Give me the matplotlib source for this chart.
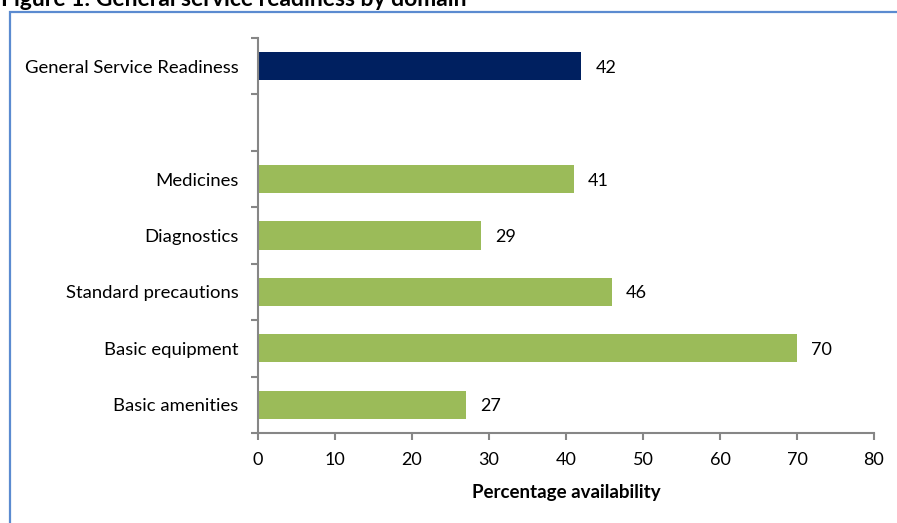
import matplotlib
matplotlib.use("Agg")
import matplotlib.pyplot as plt
from matplotlib.patches import Rectangle

plt.rcParams['font.family'] = ['Lato', 'DejaVu Sans']

categories = ["General Service Readiness", "", "Medicines", "Diagnostics",
              "Standard precautions", "Basic equipment", "Basic amenities"]
values = [42, None, 41, 29, 46, 70, 27]
colors = ["#002060", None, "#9BBB59", "#9BBB59", "#9BBB59", "#9BBB59", "#9BBB59"]
xticks = [0, 10, 20, 30, 40, 50, 60, 70, 80]

fig = plt.figure(figsize=(8.97, 5.23), dpi=100)
ax = fig.add_axes([258/897, 1-433/523, (874-258)/897, (433-38)/523])

pos = list(range(len(categories)))
for p, v, c in zip(pos, values, colors):
    if v is None:
        continue
    ax.barh(p, v, height=0.5, color=c)
    ax.text(v + 1.8, p, f"{v}", va="center_baseline", ha="left", fontsize=13, color="#000000")

ax.set_ylim(len(categories) - 0.5, -0.5)
ax.set_xlim(0, 80)
ax.set_xticks(xticks)
ax.set_xticklabels([str(t) for t in xticks], fontsize=13)
ax.set_yticks(pos)
ax.set_yticklabels(categories, fontsize=13.3, va='center_baseline')
ax.set_yticks([p - 0.5 for p in pos] + [len(pos) - 0.5], minor=True)
ax.tick_params(axis='y', which='major', length=0, pad=14)
ax.tick_params(axis='y', which='minor', length=5, width=1.5, color="#868686", direction='out')
ax.tick_params(axis='x', length=5, width=1.5, color="#868686", direction='out', pad=9)

for s in ['top', 'right']:
    ax.spines[s].set_visible(False)
for s in ['left', 'bottom']:
    ax.spines[s].set_color("#868686")
    ax.spines[s].set_linewidth(1.5)

ax.set_xlabel("Percentage availability", fontsize=13.5, fontweight='bold', labelpad=11)

# Outer border
fig.patches.append(Rectangle((9.5/897, -0.05), 1.0, 1 - 11.5/523 + 0.05,
                             transform=fig.transFigure, fill=False,
                             edgecolor="#5B8BD0", linewidth=1.6))

fig.text(0.001, 1 - 6/523, "Figure 1: General service readiness by domain",
         fontsize=16.5, fontweight='bold', ha='left', va='baseline')

fig.savefig("out.png", dpi=100)
